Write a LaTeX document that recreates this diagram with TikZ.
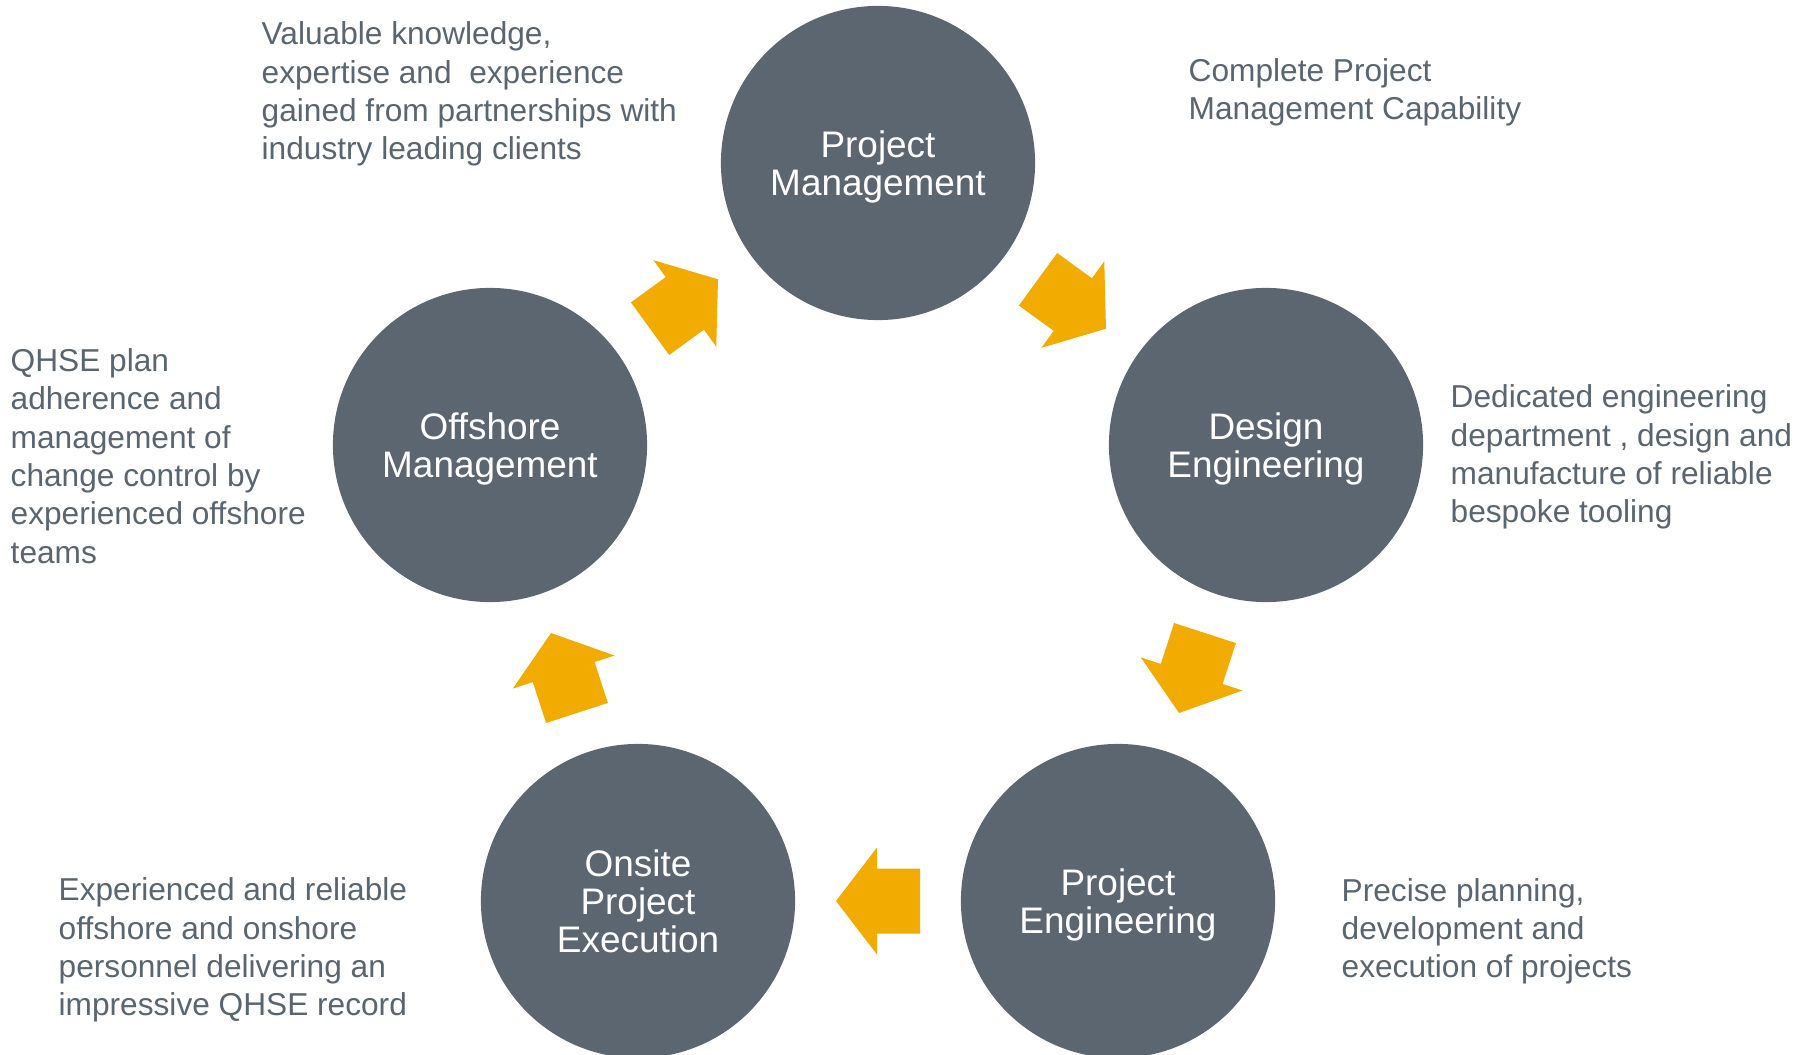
\documentclass[tikz,border=0pt]{standalone}
\usepackage{fontspec}
\setmainfont{Liberation Sans}
\definecolor{stagegray}{RGB}{91,102,112}
\definecolor{notegray}{RGB}{89,101,112}
\definecolor{flowgold}{RGB}{242,171,0}
\tikzset{
	stage/.style={circle,fill=stagegray,text=white,minimum size=3.14cm,inner sep=0pt,text depth=0pt,align=center,font=\fontsize{10.5}{10.8}\selectfont},
	note/.style={anchor=west,inner sep=0pt,text depth=0pt,align=left,text=notegray,font=\fontsize{9}{10.9}\selectfont},
	flow/.pic={\fill[flowgold] (-42,-32.5) -- (1,-32.5) -- (1,-53.5) -- (42,0) -- (1,53.5) -- (1,32.5) -- (-42,32.5) -- cycle;}
}
\begin{document}
\begin{tikzpicture}[x=0.01cm,y=0.01cm]
					\useasboundingbox (0,0) rectangle (1800,1054);

					\node [stage] (pm) at (878,891) {Project\\Management};
					\node [stage] (de) at (1266,609) {Design\\Engineering};
					\node [stage] (pe) at (1118,153) {Project\\Engineering};
					\node [stage] (ope) at (638,153) {Onsite\\Project\\Execution};
					\node [stage] (om) at (490,609) {Offshore\\Management};

					\node [note] (pmnote) at (261,963) {Valuable knowledge,\\expertise and~ experience\\gained from partnerships with\\industry leading clients};
					\node [note] (capnote) at (1188,965) {Complete Project\\Management Capability};
					\node [note] (denote) at (1450,600) {Dedicated engineering\\department , design and\\manufacture of reliable\\bespoke tooling};
					\node [note] (penote) at (1341,126) {Precise planning,\\development and\\execution of projects};
					\node [note] (openote) at (58,107) {Experienced and reliable\\offshore and onshore\\personnel delivering an\\impressive QHSE record};
					\node [note] (omnote) at (10,598) {QHSE plan\\adherence and\\management of\\change control by\\experienced offshore\\teams};

					\path (om) -- pic[sloped,allow upside down] {flow} (pm);
					\path (pm) -- pic[sloped,allow upside down] {flow} (de);
					\path (de) -- pic[sloped,allow upside down] {flow} (pe);
					\path (pe) -- pic[sloped,allow upside down] {flow} (ope);
					\path (ope) -- pic[sloped,allow upside down] {flow} (om);
				\end{tikzpicture}
\end{document}
